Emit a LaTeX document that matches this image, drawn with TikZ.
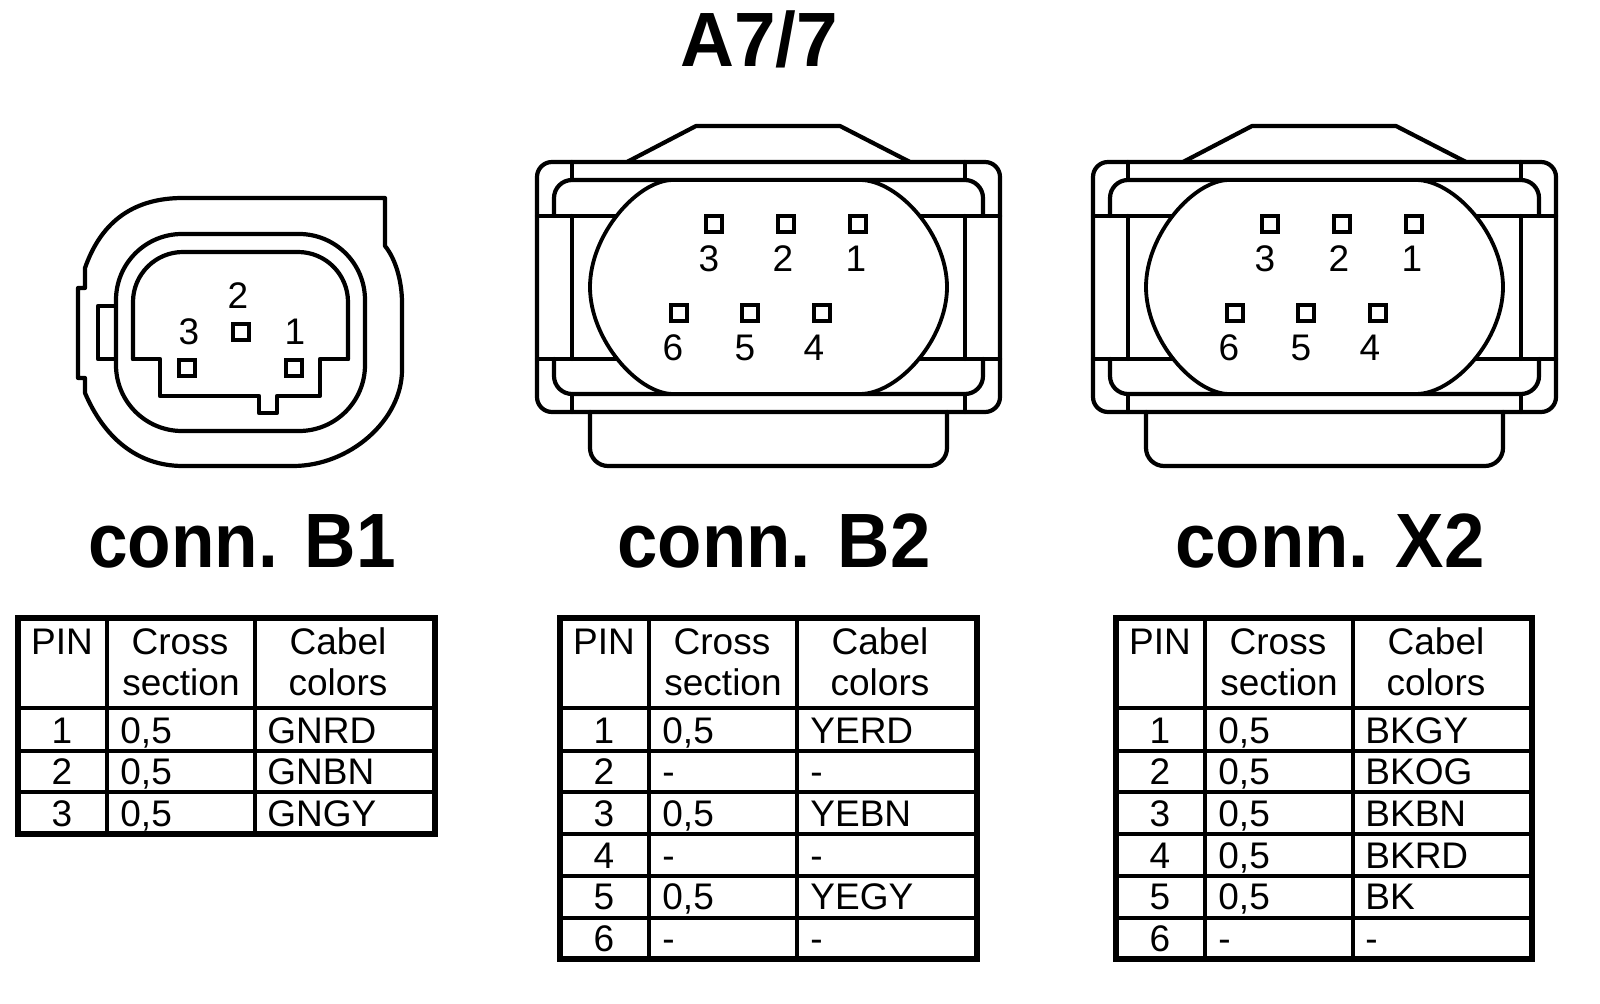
\documentclass[tikz,border=0pt]{standalone}
\usepackage{fontspec}
\setmainfont{Liberation Sans}
\usepackage{tikz}
\tikzset{
    outline/.style={line width=2.1pt, line join=round, line cap=round},
    thinline/.style={line width=1.9pt},
    frameline/.style={line width=2.6pt},
    pinbox/.style={draw, line width=2.1pt, minimum size=8.3pt, inner sep=0pt},
    pinno/.style={font=\fontsize{18.5}{20}\selectfont, anchor=base, inner sep=0pt},
    celltxt/.style={font=\fontsize{18.5}{20}\selectfont, anchor=base west, inner sep=0pt},
    cellmid/.style={font=\fontsize{18.5}{20}\selectfont, anchor=base, inner sep=0pt},
    bigtitle/.style={font=\fontsize{38.5}{40}\selectfont\bfseries, anchor=base, inner sep=0pt, transform shape},
    tablehead/.pic={
        \node[cellmid] (pin) at (604,654) {PIN};
        \node[cellmid] (cross) at (722,654) {Cross};
        \node[cellmid] (section) at (723,696) {section};
        \node[cellmid] (cabel) at (880,654) {Cabel};
        \node[cellmid] (colors) at (880,696) {colors};
    },
    sockface/.pic={
        \draw[outline] (627,162) -- (696,126) -- (840,126) -- (910,162);
        \draw[outline, rounded corners=9pt] (590,412) -- (590,466) -- (947,466) -- (947,412);
        \draw[outline, rounded corners=7.5pt] (537,162) rectangle (1000,412);
        \draw[outline] (572,162) -- (572,180) (572,216) -- (572,359) (572,394) -- (572,412);
        \draw[outline] (965,162) -- (965,180) (965,216) -- (965,359) (965,394) -- (965,412);
        \draw[outline] (537,216) -- (1000,216) (537,359) -- (1000,359);
        \draw[outline, rounded corners=9pt] (554,216) -- (554,180) -- (983,180) -- (983,216);
        \draw[outline, rounded corners=9pt] (554,359) -- (554,394) -- (983,394) -- (983,359);
        \draw[thinline, fill=white] (673,180) .. controls (638,180) and (590,234) .. (590,287)
            .. controls (590,340) and (638,394) .. (673,394) -- (860,394)
            .. controls (898,394) and (947,340) .. (947,287)
            .. controls (947,234) and (898,180) .. (860,180) -- cycle;
        \node[pinbox] (box3) at (714,224) {};
        \node[pinbox] (box2) at (786,224) {};
        \node[pinbox] (box1) at (858,224) {};
        \node[pinbox] (box6) at (679,313) {};
        \node[pinbox] (box5) at (750,313) {};
        \node[pinbox] (box4) at (822,313) {};
        \node[pinno] (no3) at (709,272) {3};
        \node[pinno] (no2) at (783,272) {2};
        \node[pinno] (no1) at (856,272) {1};
        \node[pinno] (no6) at (673,361) {6};
        \node[pinno] (no5) at (745,361) {5};
        \node[pinno] (no4) at (814,361) {4};
    }
}

\begin{document}
\begin{tikzpicture}[x=0.5pt, y=-0.5pt]
    \path[use as bounding box, fill=white] (0,0) rectangle (1600,1004);

    \node[bigtitle, xscale=.97] (titlemain) at (759,67) {A7/7};
    \node[bigtitle, xscale=.925] (titleb1) at (242,568) {conn. B1};
    \node[bigtitle, xscale=.943] (titleb2) at (774,568) {conn. B2};
    \node[bigtitle, xscale=.943] (titlex2) at (1330,568) {conn. X2};

    % connector B1
    \draw[outline] (385,198) -- (385,246) .. controls (395,258) and (402,280) .. (402,303) -- (402,370)
        .. controls (402,420) and (350,466) .. (293,466) -- (183,466)
        .. controls (135,466) and (103,435) .. (85,393) -- (85,378) -- (78,378) -- (78,288) -- (85,288) -- (85,268)
        .. controls (100,225) and (130,198) .. (183,198) -- cycle;
    \draw[outline] (116,306) -- (98,306) -- (98,359) -- (116,359);
    \draw[outline, rounded corners=33pt, fill=white] (116,234) rectangle (365,431);
    \draw[outline, rounded corners=25pt] (133,359) -- (133,252) -- (348,252) -- (348,359);
    \draw[outline] (133,359) -- (160,359) -- (160,396) -- (259,396) -- (259,413) -- (277,413) -- (277,396) -- (320,396) -- (320,359) -- (348,359);
    \node[pinbox] (b1box2) at (241,332) {};
    \node[pinbox] (b1box3) at (187,368) {};
    \node[pinbox] (b1box1) at (294,368) {};
    \node[pinno] (b1no2) at (238,309) {2};
    \node[pinno] (b1no3) at (189,345) {3};
    \node[pinno] (b1no1) at (295,345) {1};

    % connectors B2 and X2
    \pic (sockb) at (0,0) {sockface};
    \pic (sockx) at (556,0) {sockface};

    % table B1
    \draw[thinline] (107,618) -- (107,834) (255,618) -- (255,834);
    \draw[thinline] (18,708) -- (435,708) (18,751) -- (435,751) (18,792) -- (435,792);
    \draw[frameline] (18,618) rectangle (435,834);
    \pic (headb1) at (-542,0) {tablehead};
    \node[cellmid] (b1r1) at (62,743) {1};
    \node[celltxt] (b1a1) at (120,743) {0,5};
    \node[celltxt] (b1c1) at (267,743) {GNRD};
    \node[cellmid] (b1r2) at (62,784) {2};
    \node[celltxt] (b1a2) at (120,784) {0,5};
    \node[celltxt] (b1c2) at (267,784) {GNBN};
    \node[cellmid] (b1r3) at (62,826) {3};
    \node[celltxt] (b1a3) at (120,826) {0,5};
    \node[celltxt] (b1c3) at (267,826) {GNGY};

    % table B2
    \draw[thinline] (649,618) -- (649,959) (797,618) -- (797,959);
    \draw[thinline] (560,708) -- (977,708) (560,751) -- (977,751) (560,792) -- (977,792)
        (560,834) -- (977,834) (560,876) -- (977,876) (560,918) -- (977,918);
    \draw[frameline] (560,618) rectangle (977,959);
    \pic (headb2) at (0,0) {tablehead};
    \node[cellmid] (b2r1) at (604,743) {1};
    \node[celltxt] (b2a1) at (662,743) {0,5};
    \node[celltxt] (b2c1) at (810,743) {YERD};
    \node[cellmid] (b2r2) at (604,784) {2};
    \node[celltxt] (b2a2) at (662,784) {-};
    \node[celltxt] (b2c2) at (810,784) {-};
    \node[cellmid] (b2r3) at (604,826) {3};
    \node[celltxt] (b2a3) at (662,826) {0,5};
    \node[celltxt] (b2c3) at (810,826) {YEBN};
    \node[cellmid] (b2r4) at (604,868) {4};
    \node[celltxt] (b2a4) at (662,868) {-};
    \node[celltxt] (b2c4) at (810,868) {-};
    \node[cellmid] (b2r5) at (604,909) {5};
    \node[celltxt] (b2a5) at (662,909) {0,5};
    \node[celltxt] (b2c5) at (810,909) {YEGY};
    \node[cellmid] (b2r6) at (604,951) {6};
    \node[celltxt] (b2a6) at (662,951) {-};
    \node[celltxt] (b2c6) at (810,951) {-};

    % table X2
    \draw[thinline] (1205,618) -- (1205,959) (1353,618) -- (1353,959);
    \draw[thinline] (1116,708) -- (1532,708) (1116,751) -- (1532,751) (1116,792) -- (1532,792)
        (1116,834) -- (1532,834) (1116,876) -- (1532,876) (1116,918) -- (1532,918);
    \draw[frameline] (1116,618) rectangle (1532,959);
    \pic (headx2) at (556,0) {tablehead};
    \node[cellmid] (x2r1) at (1160,743) {1};
    \node[celltxt] (x2a1) at (1218,743) {0,5};
    \node[celltxt] (x2c1) at (1365,743) {BKGY};
    \node[cellmid] (x2r2) at (1160,784) {2};
    \node[celltxt] (x2a2) at (1218,784) {0,5};
    \node[celltxt] (x2c2) at (1365,784) {BKOG};
    \node[cellmid] (x2r3) at (1160,826) {3};
    \node[celltxt] (x2a3) at (1218,826) {0,5};
    \node[celltxt] (x2c3) at (1365,826) {BKBN};
    \node[cellmid] (x2r4) at (1160,868) {4};
    \node[celltxt] (x2a4) at (1218,868) {0,5};
    \node[celltxt] (x2c4) at (1365,868) {BKRD};
    \node[cellmid] (x2r5) at (1160,909) {5};
    \node[celltxt] (x2a5) at (1218,909) {0,5};
    \node[celltxt] (x2c5) at (1365,909) {BK};
    \node[cellmid] (x2r6) at (1160,951) {6};
    \node[celltxt] (x2a6) at (1218,951) {-};
    \node[celltxt] (x2c6) at (1365,951) {-};
\end{tikzpicture}
\end{document}
